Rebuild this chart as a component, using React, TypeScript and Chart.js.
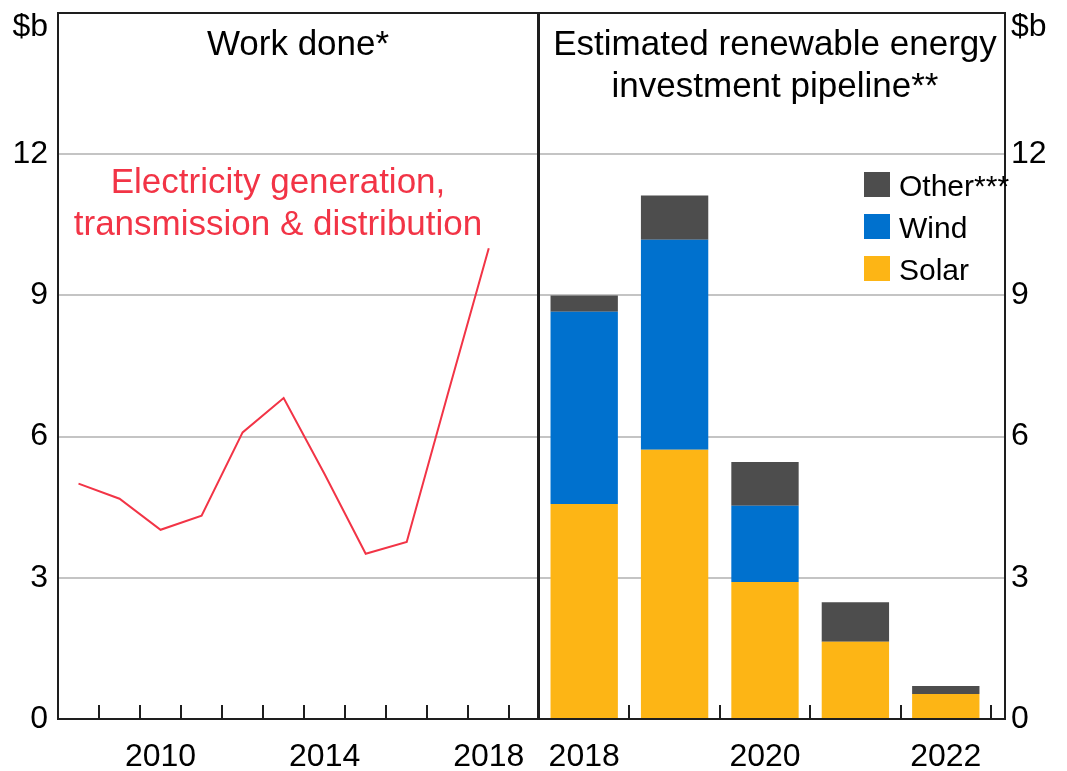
import React, { useEffect, useRef } from 'react';
import { Chart, registerables } from 'chart.js';

Chart.register(...registerables);

// ---------- data ----------
const lineYears = [2008, 2009, 2010, 2011, 2012, 2013, 2014, 2015, 2016, 2017, 2018];
const workDone = [5.0, 4.68, 4.02, 4.32, 6.09, 6.82, 5.2, 3.51, 3.76, 6.9, 10.0];

const pipelineYears = [2018, 2019, 2020, 2021, 2022];
const solar = [4.57, 5.72, 2.91, 1.64, 0.53];
const wind = [4.08, 4.46, 1.62, 0, 0];
const other = [0.35, 0.94, 0.93, 0.84, 0.17];

const yTickValues = [0, 3, 6, 9, 12, 15];
const leftXLabels = [2010, 2014, 2018];
const rightXLabels = [2018, 2020, 2022];
const unitLabel = '$b';
const leftTitle = ['Work done*'];
const rightTitle = ['Estimated renewable energy', 'investment pipeline**'];
const lineLabel = ['Electricity generation,', 'transmission & distribution'];
const seriesNames = ['Solar', 'Wind', 'Other***'];

// ---------- styles ----------
const FAMILY = '"Liberation Sans", Arial, Helvetica, sans-serif';
const RED = '#F23446';
const COLORS = ['#FDB515', '#0071CE', '#4D4D4D'];
const GRID = '#C4C4C4';
const AXIS = '#1E1E1E';
const TICK_SIZE = 32;
const LEGEND_SIZE = 30;
const TITLE_SIZE = 35;

Chart.defaults.font.family = FAMILY;

function font(size: number) {
  return `${size}px ${FAMILY}`;
}

function drawFrame(chart: any, marks: number[]) {
  const { ctx, chartArea: a } = chart;
  const xs = chart.scales.x;
  ctx.save();
  ctx.strokeStyle = AXIS;
  ctx.lineWidth = 2;
  ctx.strokeRect(a.left, a.top, a.right - a.left, a.bottom - a.top);
  ctx.beginPath();
  marks.forEach((v) => {
    const px = Math.round(xs.getPixelForValue(v));
    ctx.moveTo(px, a.bottom);
    ctx.lineTo(px, a.bottom - 14);
  });
  ctx.stroke();
  ctx.restore();
}

const leftPlugin = {
  id: 'leftDecor',
  afterDraw(chart: any) {
    const { ctx, chartArea: a } = chart;
    const xs = chart.scales.x;
    const marks: number[] = [];
    for (let v = Math.ceil(xs.min) + 0.5; v < xs.max; v += 1) marks.push(v);
    drawFrame(chart, marks);
    ctx.save();
    ctx.fillStyle = '#000';
    ctx.font = font(TICK_SIZE);
    ctx.textAlign = 'right';
    ctx.textBaseline = 'alphabetic';
    ctx.fillText(unitLabel, a.left - 10, a.top + 23);
    ctx.font = font(TITLE_SIZE);
    ctx.textAlign = 'center';
    ctx.fillText(leftTitle[0], (a.left + a.right) / 2, a.top + 42);
    ctx.fillStyle = RED;
    ctx.fillText(lineLabel[0], a.left + 220, a.top + 180);
    ctx.fillText(lineLabel[1], a.left + 220, a.top + 222);
    ctx.restore();
  },
};

const rightPlugin = {
  id: 'rightDecor',
  afterDraw(chart: any) {
    const { ctx, chartArea: a } = chart;
    const xs = chart.scales.x;
    const marks: number[] = [];
    for (let v = Math.ceil(xs.min) + 0.5; v < xs.max; v += 1) marks.push(v);
    drawFrame(chart, marks);
    ctx.save();
    ctx.fillStyle = '#000';
    ctx.font = font(TICK_SIZE);
    ctx.textAlign = 'left';
    ctx.textBaseline = 'alphabetic';
    ctx.fillText(unitLabel, a.right + 6, a.top + 23);
    ctx.font = font(TITLE_SIZE);
    ctx.textAlign = 'center';
    const cx = (a.left + a.right) / 2 + 3;
    ctx.fillText(rightTitle[0], cx, a.top + 42);
    ctx.fillText(rightTitle[1], cx, a.top + 84);
    // legend (top series first)
    const ds = chart.data.datasets;
    ctx.font = font(LEGEND_SIZE);
    ctx.textAlign = 'left';
    for (let i = ds.length - 1, row = 0; i >= 0; i--, row++) {
      const y0 = a.top + 159 + row * 42;
      ctx.fillStyle = ds[i].backgroundColor;
      ctx.fillRect(a.left + 325, y0, 26, 25);
      ctx.fillStyle = '#000';
      ctx.fillText(ds[i].label, a.left + 360, y0 + 24);
    }
    ctx.restore();
  },
};

function yAxis(position: 'left' | 'right', width: number, padding: number) {
  return {
    position,
    min: 0,
    max: 15,
    afterBuildTicks: (s: any) => {
      s.ticks = yTickValues.map((v) => ({ value: v }));
    },
    afterFit: (s: any) => {
      s.width = width;
      s.paddingTop = 0;
      s.paddingBottom = 0;
    },
    ticks: {
      padding,
      color: '#000',
      font: { size: TICK_SIZE, family: FAMILY },
      callback: (v: any) => (v === 15 ? '' : String(v)),
    },
    grid: { color: GRID, lineWidth: 2, drawTicks: false, tickLength: 0 },
    border: { display: false },
  };
}

function xAxis(min: number, max: number, labels: number[]) {
  return {
    type: 'linear' as const,
    min,
    max,
    afterBuildTicks: (s: any) => {
      s.ticks = labels.map((v) => ({ value: v }));
    },
    afterFit: (s: any) => {
      s.height = 52;
      s.paddingLeft = 0;
      s.paddingRight = 0;
    },
    ticks: {
      autoSkip: false,
      maxRotation: 0,
      padding: 19,
      color: '#000',
      font: { size: TICK_SIZE, family: FAMILY },
      callback: (v: any) => String(v),
    },
    grid: { display: false, drawTicks: false, tickLength: 0 },
    border: { display: false },
  };
}

export default function App() {
  const leftRef = useRef<HTMLCanvasElement>(null);
  const rightRef = useRef<HTMLCanvasElement>(null);

  useEffect(() => {
    const left = new Chart(leftRef.current as HTMLCanvasElement, {
      type: 'line',
      data: {
        datasets: [
          {
            label: 'Work done',
            data: lineYears.map((x, i) => ({ x, y: workDone[i] })),
            borderColor: RED,
            borderWidth: 2,
            pointRadius: 0,
            tension: 0,
          },
        ],
      },
      options: {
        animation: false,
        responsive: false,
        devicePixelRatio: 1,
        layout: { padding: { top: 63, right: 2, left: 0, bottom: 0 } },
        plugins: { legend: { display: false }, tooltip: { enabled: false } },
        scales: {
          x: xAxis(2007.5, 2019.2, leftXLabels),
          y: yAxis('left', 58, 10),
        },
      } as any,
      plugins: [leftPlugin],
    });

    const values = [solar, wind, other];
    const right = new Chart(rightRef.current as HTMLCanvasElement, {
      type: 'bar',
      data: {
        datasets: values.map((arr, k) => ({
          label: seriesNames[k],
          data: pipelineYears.map((x, i) => ({ x, y: arr[i] })),
          backgroundColor: COLORS[k],
          borderWidth: 0,
          barPercentage: 0.745,
          categoryPercentage: 1,
        })),
      },
      options: {
        animation: false,
        responsive: false,
        devicePixelRatio: 1,
        layout: { padding: { top: 63, right: 0, left: 19, bottom: 0 } },
        plugins: { legend: { display: false }, tooltip: { enabled: false } },
        scales: {
          x: { ...xAxis(2017.5, 2022.655, rightXLabels), stacked: true, offset: false },
          y: { ...yAxis('right', 62, 6), stacked: true },
        },
      } as any,
      plugins: [rightPlugin],
    });

    return () => {
      left.destroy();
      right.destroy();
    };
  }, []);

  return (
    <div
      style={{
        position: 'fixed',
        left: 0,
        top: 0,
        width: 1067,
        height: 771,
        overflow: 'hidden',
        background: '#fff',
      }}
    >
      <canvas
        ref={leftRef}
        width={540}
        height={821}
        style={{ position: 'absolute', left: 0, top: -50, width: 540, height: 821 }}
      />
      <canvas
        ref={rightRef}
        width={547}
        height={821}
        style={{ position: 'absolute', left: 520, top: -50, width: 547, height: 821 }}
      />
    </div>
  );
}
